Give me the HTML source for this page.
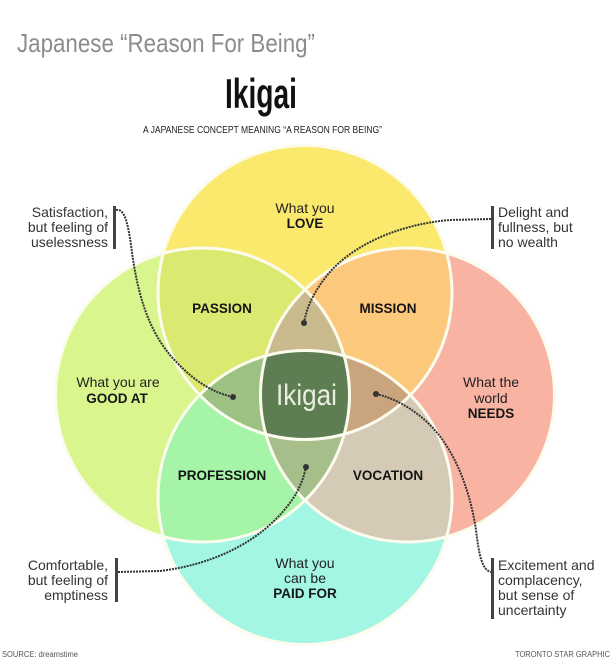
<!DOCTYPE html>
<html>
<head>
<meta charset="utf-8">
<style>
html,body{margin:0;padding:0;background:#fff;}
svg{display:block;}
text{font-family:"Liberation Sans",sans-serif;}
</style>
</head>
<body>
<svg width="613" height="665" viewBox="0 0 613 665" xmlns="http://www.w3.org/2000/svg">
<defs>
<clipPath id="cT"><circle cx="305" cy="292.5" r="147"/></clipPath>
<clipPath id="cL"><circle cx="202.5" cy="395" r="147"/></clipPath>
<clipPath id="cR"><circle cx="407.5" cy="395" r="147"/></clipPath>
<clipPath id="cB"><circle cx="305" cy="497.5" r="147"/></clipPath>
</defs>
<rect width="613" height="665" fill="#fff"/>

<!-- headings -->
<text x="17" y="52" font-size="26" fill="#8c8c8c" textLength="298" lengthAdjust="spacingAndGlyphs">Japanese “Reason For Being”</text>
<text x="225" y="108" font-size="42" font-weight="bold" fill="#111" textLength="72" lengthAdjust="spacingAndGlyphs">Ikigai</text>
<text x="143" y="133" font-size="10" fill="#222" textLength="239" lengthAdjust="spacingAndGlyphs">A JAPANESE CONCEPT MEANING “A REASON FOR BEING”</text>

<!-- base circles -->
<circle cx="305" cy="292.5" r="147" fill="#fbe96e"/>
<circle cx="202.5" cy="395" r="147" fill="#d9f58e"/>
<circle cx="407.5" cy="395" r="147" fill="#f9b3a3"/>
<circle cx="305" cy="497.5" r="147" fill="#a3f5e4"/>

<!-- pair overlaps -->
<g clip-path="url(#cT)"><circle cx="202.5" cy="395" r="147" fill="#dbe970"/></g>
<g clip-path="url(#cT)"><circle cx="407.5" cy="395" r="147" fill="#fcc87c"/></g>
<g clip-path="url(#cB)"><circle cx="202.5" cy="395" r="147" fill="#a6f4a8"/></g>
<g clip-path="url(#cB)"><circle cx="407.5" cy="395" r="147" fill="#d5cab5"/></g>

<!-- triple overlaps -->
<g clip-path="url(#cL)"><g clip-path="url(#cR)"><circle cx="305" cy="292.5" r="147" fill="#c9bb8e"/></g></g>
<g clip-path="url(#cL)"><g clip-path="url(#cR)"><circle cx="305" cy="497.5" r="147" fill="#a6bf8a"/></g></g>
<g clip-path="url(#cT)"><g clip-path="url(#cB)"><circle cx="202.5" cy="395" r="147" fill="#9cc183"/></g></g>
<g clip-path="url(#cT)"><g clip-path="url(#cB)"><circle cx="407.5" cy="395" r="147" fill="#c9a47c"/></g></g>

<!-- center -->
<g clip-path="url(#cT)"><g clip-path="url(#cB)"><g clip-path="url(#cL)"><circle cx="407.5" cy="395" r="147" fill="#5f7d52"/></g></g></g>

<!-- white outlines -->
<g fill="none" stroke="#fbfbee" stroke-width="3">
<circle cx="305" cy="292.5" r="147"/>
<circle cx="202.5" cy="395" r="147"/>
<circle cx="407.5" cy="395" r="147"/>
<circle cx="305" cy="497.5" r="147"/>
</g>

<!-- circle labels -->
<g fill="#222" font-size="14" text-anchor="middle">
<text x="305" y="213">What you</text>
<text x="118" y="387">What you are</text>
<text x="491" y="387">What the</text>
<text x="491" y="403">world</text>
<text x="305" y="568">What you</text>
<text x="305" y="583">can be</text>
</g>
<g fill="#151515" font-size="13.5" font-weight="bold" text-anchor="middle">
<text x="305" y="228">LOVE</text>
<text x="117" y="403">GOOD AT</text>
<text x="491" y="418">NEEDS</text>
<text x="305" y="598">PAID FOR</text>
<text x="222" y="313">PASSION</text>
<text x="388" y="313">MISSION</text>
<text x="222" y="480">PROFESSION</text>
<text x="388" y="480">VOCATION</text>
</g>
<text x="276" y="405" font-size="30" fill="#e9efe0" textLength="61" lengthAdjust="spacingAndGlyphs">Ikigai</text>

<!-- connectors -->
<g fill="none" stroke="#333" stroke-width="2" stroke-dasharray="2 1">
<path d="M116,210 C125,208 128,225 131,245 C136,285 145,325 170,355 C190,378 210,392 233,397"/>
<path d="M491,219 L450,220 C400,224 350,245 325,278 C312,295 306,310 304,323"/>
<path d="M118,572 L160,571 C210,565 250,545 275,520 C295,500 302,485 306,467"/>
<path d="M376,394 C395,398 415,410 430,425 C455,450 470,490 476,530 C479,555 482,570 491,572"/>
</g>
<g fill="#333">
<circle cx="233" cy="397" r="3"/>
<circle cx="304" cy="323" r="3"/>
<circle cx="306" cy="467" r="3"/>
<circle cx="376" cy="394" r="3"/>
</g>

<!-- annotation bars -->
<g fill="#444">
<rect x="113" y="206" width="3" height="43"/>
<rect x="491" y="206" width="3" height="43"/>
<rect x="115" y="558" width="3" height="44"/>
<rect x="491" y="558" width="3" height="61"/>
</g>

<!-- annotations -->
<g fill="#333" font-size="14" text-anchor="end">
<text x="108" y="217">Satisfaction,</text>
<text x="108" y="232">but feeling of</text>
<text x="108" y="247">uselessness</text>
<text x="108" y="570">Comfortable,</text>
<text x="108" y="585">but feeling of</text>
<text x="108" y="600">emptiness</text>
</g>
<g fill="#333" font-size="14">
<text x="498" y="217">Delight and</text>
<text x="498" y="232">fullness, but</text>
<text x="498" y="247">no wealth</text>
<text x="498" y="570">Excitement and</text>
<text x="498" y="585">complacency,</text>
<text x="498" y="600">but sense of</text>
<text x="498" y="615">uncertainty</text>
</g>

<!-- footer -->
<text x="2" y="657" font-size="8" fill="#555" textLength="76" lengthAdjust="spacingAndGlyphs">SOURCE: dreamstime</text>
<text x="515" y="657" font-size="8" fill="#555" textLength="95" lengthAdjust="spacingAndGlyphs">TORONTO STAR GRAPHIC</text>
</svg>
</body>
</html>
